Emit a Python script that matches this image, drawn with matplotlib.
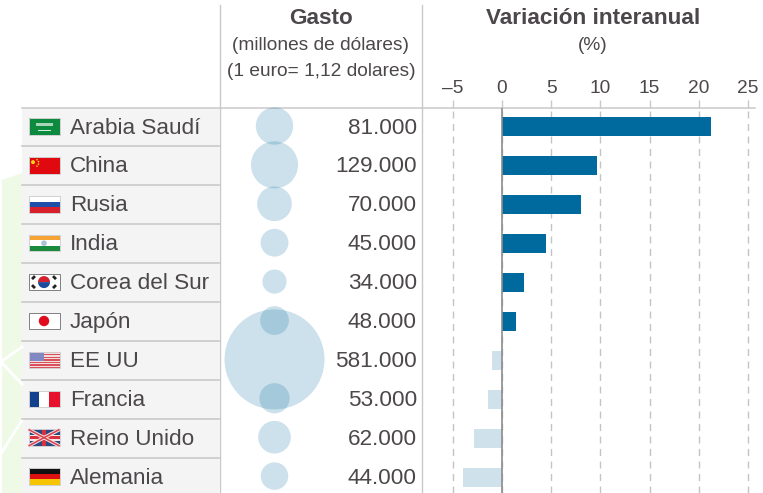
import numpy as np
import matplotlib
matplotlib.use('Agg')
import matplotlib.pyplot as plt
from matplotlib.patches import Rectangle, Circle, Polygon, Wedge

countries = ['Arabia Saudí', 'China', 'Rusia', 'India', 'Corea del Sur',
             'Japón', 'EE UU', 'Francia', 'Reino Unido', 'Alemania']
gasto = [81000, 129000, 70000, 45000, 34000, 48000, 581000, 53000, 62000, 44000]
gasto_labels = ['81.000', '129.000', '70.000', '45.000', '34.000',
                '48.000', '581.000', '53.000', '62.000', '44.000']
variacion = [21.2, 9.7, 8.0, 4.5, 2.2, 1.4, -1.0, -1.4, -2.8, -4.0]
var_ticks = [-5, 0, 5, 10, 15, 20, 25]
var_tick_labels = ['–5', '0', '5', '10', '15', '20', '25']

W, H = 763, 493
TXT = '#4b474a'
LINE = '#c9c9c9'
BLUE = '#006a9e'
PALE = '#cfe2ec'
ROW0 = 127.0
ROWH = 38.9
BIG = 16.2
SMALL = 13.8

plt.rcParams['font.family'] = ['Liberation Sans', 'DejaVu Sans']

fig = plt.figure(figsize=(W / 100, H / 100), dpi=100)

# background axes in pixel coords, y going down
ax = fig.add_axes([0, 0, 1, 1])
ax.set_xlim(0, W)
ax.set_ylim(H, 0)
ax.axis('off')

# faint green shape behind the table
ax.add_patch(Polygon([(2, 180), (22, 173), (22, 493), (2, 493)], fc='#eefae6', ec='none'))
ax.plot([2, 22], [361, 347], color='white', lw=2)
ax.plot([2, 22], [363, 384], color='white', lw=2)
ax.plot([2, 22], [452, 420], color='white', lw=2)

ys = [ROW0 + ROWH * i for i in range(len(countries))]

# rows
ax.add_patch(Rectangle((22, 108), 197, H - 108, fc='#f4f4f4', ec='none'))
for y in ys[:-1]:
    ax.plot([22, 219], [y + ROWH / 2] * 2, color=LINE, lw=1.2)
ax.plot([22, 755], [108, 108], color=LINE, lw=1.1)
ax.plot([219.5, 219.5], [5, H], color=LINE, lw=1.0)
ax.plot([421.5, 421.5], [5, H], color=LINE, lw=1.0)


def flag(name, y):
    x0, w = 28.5, 31
    h = 16.5
    t = y - h / 2 - 0.5

    def band(frac0, frac1, c):
        ax.add_patch(Rectangle((x0, t + h * frac0), w, h * (frac1 - frac0), fc=c, ec='none'))

    def vband(frac0, frac1, c):
        ax.add_patch(Rectangle((x0 + w * frac0, t), w * (frac1 - frac0), h, fc=c, ec='none'))

    cx, cy = x0 + w / 2, t + h / 2
    if name == 'Arabia Saudí':
        band(0, 1, '#0c8a3e')
        ax.add_patch(Rectangle((x0 + 7, t + 4.5), 17, 3.5, fc='#a8d4b8', ec='none'))
        ax.add_patch(Rectangle((x0 + 9, t + 11.5), 13, 0.9, fc='#d5ebdc', ec='none'))
    elif name == 'China':
        band(0, 1, '#e0090f')
        ax.add_patch(Circle((x0 + 4.5, t + 5), 2, fc='#f7d417', ec='none'))
        for dx, dy in [(8.5, 2.5), (10, 4.5), (10, 7), (8.5, 9)]:
            ax.add_patch(Circle((x0 + dx, t + dy), 0.8, fc='#f7d417', ec='none'))
    elif name == 'Rusia':
        band(0, 1 / 3, '#ffffff')
        band(1 / 3, 2 / 3, '#1f4fa8')
        band(2 / 3, 1, '#d8202c')
    elif name == 'India':
        band(0, 1 / 3, '#f5a335')
        band(1 / 3, 2 / 3, '#ffffff')
        band(2 / 3, 1, '#1c8a3c')
        ax.add_patch(Circle((cx, cy), 2.8, fc='#a9c4d8', ec='none'))
    elif name == 'Corea del Sur':
        band(0, 1, '#ffffff')
        ax.add_patch(Wedge((cx, cy), 6, 180, 360, fc='#d2202c', ec='none'))
        ax.add_patch(Wedge((cx, cy), 6, 0, 180, fc='#1c4a9c', ec='none'))
        for sx in (-1, 1):
            for sy in (-1, 1):
                ax.plot([cx + sx * 9, cx + sx * 12], [cy + sy * 6, cy + sy * 3],
                        color='#222222', lw=2, solid_capstyle='butt')
    elif name == 'Japón':
        band(0, 1, '#ffffff')
        ax.add_patch(Circle((cx, cy), 5.2, fc='#e00b1c', ec='none'))
    elif name == 'EE UU':
        for k in range(7):
            band(k * 2 / 13, (k * 2 + 1) / 13, '#d8505c')
            band((k * 2 + 1) / 13, min(1, (k * 2 + 2) / 13), '#f4dcdc')
        ax.add_patch(Rectangle((x0, t), w * 0.5, h * 0.55, fc='#8288c2', ec='none'))
    elif name == 'Francia':
        vband(0, 1 / 3, '#12408c')
        vband(1 / 3, 2 / 3, '#ffffff')
        vband(2 / 3, 1, '#e8112d')
    elif name == 'Reino Unido':
        band(0, 1, '#2a4a86')
        ax.plot([x0, x0 + w], [t, t + h], color='#f5dede', lw=2.6, solid_capstyle='butt')
        ax.plot([x0, x0 + w], [t + h, t], color='#f5dede', lw=2.6, solid_capstyle='butt')
        ax.plot([x0, x0 + w], [t, t + h], color='#d8404c', lw=1.1, solid_capstyle='butt')
        ax.plot([x0, x0 + w], [t + h, t], color='#d8404c', lw=1.1, solid_capstyle='butt')
        band(0.33, 0.67, '#f8e8e8')
        vband(0.42, 0.58, '#f8e8e8')
        band(0.4, 0.6, '#d8303c')
        vband(0.45, 0.55, '#d8303c')
    elif name == 'Alemania':
        band(0, 1 / 3, '#111111')
        band(1 / 3, 2 / 3, '#dd1111')
        band(2 / 3, 1, '#f6c400')
    edge = '#808080' if name in ('Corea del Sur', 'Japón') else '#d0d0d0'
    ax.add_patch(Rectangle((x0, t), w, h, fc='none', ec=edge, lw=0.7))


for name, y in zip(countries, ys):
    flag(name, y)
    ax.text(70, y + 1, name, fontsize=BIG, color=TXT, va='center', ha='left')

# bubbles, area proportional to the spending
k = 5184 / 581000
ax.scatter([274.5] * len(gasto), [y - 1 for y in ys], s=[k * g for g in gasto],
           color=BLUE, alpha=0.2, linewidths=0, zorder=3)
for lab, y in zip(gasto_labels, ys):
    ax.text(417, y + 1, lab, fontsize=BIG, color=TXT, va='center', ha='right', zorder=4)

# headers
ax.text(321, 19, 'Gasto', fontsize=BIG, fontweight='bold', color=TXT, ha='center', va='center')
ax.text(321, 45, '(millones de dólares)', fontsize=SMALL, color=TXT, ha='center', va='center')
ax.text(321, 71, '(1 euro= 1,12 dolares)', fontsize=SMALL, color=TXT, ha='center', va='center')
ax.text(593, 19, 'Variación interanual', fontsize=BIG, fontweight='bold', color=TXT, ha='center', va='center')
ax.text(593, 45, '(%)', fontsize=SMALL, color=TXT, ha='center', va='center')

# bars axes: x = 0 at 502 px, 25 at 748 px
px = (748 - 502) / 25
left, right = 423, 755
bar_ax = fig.add_axes([left / W, 0, (right - left) / W, 1 - 108 / H])
bar_ax.patch.set_alpha(0)
bar_ax.set_xlim((left - 502) / px, (right - 502) / px)
bar_ax.set_ylim(H, 108)
colors = [BLUE if v > 0 else PALE for v in variacion]
bar_ax.barh(ys, variacion, height=19, color=colors, zorder=3)
bar_ax.axvline(0, color='#8c8c8c', lw=1.2, zorder=4)
for s in bar_ax.spines.values():
    s.set_visible(False)
bar_ax.xaxis.tick_top()
bar_ax.set_xticks(var_ticks)
bar_ax.set_xticklabels(var_tick_labels, fontsize=SMALL, color=TXT)
bar_ax.tick_params(axis='x', length=6, width=1, color='#c9c9c9', pad=2, direction='out')
bar_ax.set_yticks([])
bar_ax.grid(axis='x', color='#c4c4c4', lw=1, linestyle=(0, (5, 4)), zorder=1)

fig.savefig('out.png', dpi=100)
